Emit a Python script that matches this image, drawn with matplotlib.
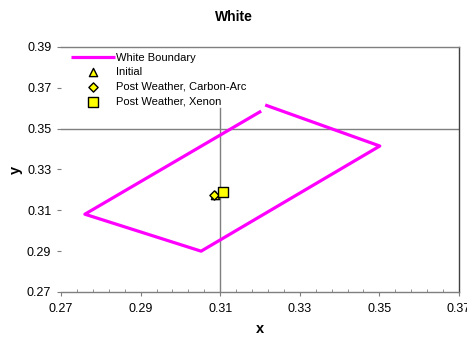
import numpy as np
import matplotlib.pyplot as plt

plt.rcParams['font.family'] = ['Liberation Sans', 'DejaVu Sans']

# White boundary polygon (open path, as drawn)
boundary_x = [0.3213, 0.3501, 0.3052, 0.2760, 0.3203]
boundary_y = [0.3616, 0.3415, 0.2900, 0.3081, 0.3586]

# Measured colour points
initial_x, initial_y = [0.3086], [0.3176]
carbon_x, carbon_y = [0.3084], [0.3174]
xenon_x, xenon_y = [0.3106], [0.3192]

# Reference crosshair
ref_x = 0.31
ref_y = 0.35

xticks = [0.27, 0.29, 0.31, 0.33, 0.35, 0.37]
yticks = [0.27, 0.29, 0.31, 0.33, 0.35, 0.37, 0.39]

fig = plt.figure(figsize=(4.67, 3.42), dpi=100)
ax = fig.add_axes([0.1306, 0.1462, 0.8523, 0.7164])

# Crosshair lines
ax.plot([ref_x, ref_x], [0.27, 0.36], color='#7f7f7f', lw=1.0, zorder=1)
ax.axhline(ref_y, color='#7f7f7f', lw=1.0, zorder=1)

ax.plot(boundary_x, boundary_y, color='#ff00ff', lw=2.3,
        solid_capstyle='butt', label='White Boundary', zorder=2)
ax.scatter(initial_x, initial_y, marker='^', s=35, facecolor='#ffff00',
           edgecolor='black', linewidth=1.0, label='Initial', zorder=3)
ax.scatter(carbon_x, carbon_y, marker='D', s=22, facecolor='#ffff00',
           edgecolor='black', linewidth=1.0,
           label='Post Weather, Carbon-Arc', zorder=4)
ax.scatter(xenon_x, xenon_y, marker='s', s=55, facecolor='#ffff00',
           edgecolor='black', linewidth=1.0,
           label='Post Weather, Xenon', zorder=5)

ax.set_xlim(0.27, 0.37)
ax.set_ylim(0.27, 0.39)
ax.set_xticks(xticks)
ax.set_yticks(yticks)
ax.set_xticklabels([f'{v:.2f}' for v in xticks])
ax.set_yticklabels([f'{v:.2f}' for v in yticks])
ax.set_xticks(np.arange(0.274, 0.37, 0.004), minor=True)
ax.tick_params(axis='both', which='major', labelsize=9, length=3,
               color='#7f7f7f', direction='out')
ax.tick_params(axis='x', which='major', pad=5)
ax.tick_params(axis='y', which='major', pad=4)
ax.tick_params(axis='x', which='minor', length=2, color='#7f7f7f',
               direction='in')
ax.tick_params(axis='y', which='minor', length=0)

ax.spines['left'].set_visible(False)
for side in ['top', 'bottom']:
    ax.spines[side].set_color('#7f7f7f')
    ax.spines[side].set_linewidth(1.0)
ax.spines['right'].set_color('#404040')
ax.spines['right'].set_linewidth(1.0)

ax.set_xlabel('x', fontsize=10.5, fontweight='bold', labelpad=5)
ax.set_ylabel('y', fontsize=10.5, fontweight='bold', labelpad=3)
fig.text(0.5, 0.95, 'White', ha='center', va='center',
         fontsize=10, fontweight='bold')

ax.legend(loc='upper left', bbox_to_anchor=(0.015, 0.995), frameon=False,
          fontsize=8, handlelength=3.9, handletextpad=0.15,
          labelspacing=0.42, borderaxespad=0, scatterpoints=1)

fig.savefig('out.png', dpi=100)
